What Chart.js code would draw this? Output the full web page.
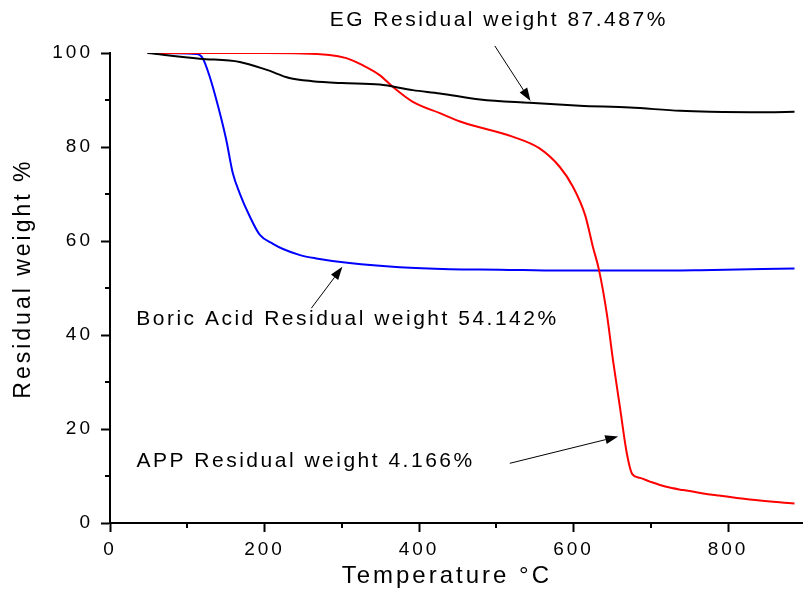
<!DOCTYPE html>
<html><head><meta charset="utf-8">
<script src="https://cdn.jsdelivr.net/npm/chart.js@4/dist/chart.umd.min.js"></script>
<style>html,body{margin:0;padding:0;background:#fff;}</style>
</head><body>
<canvas id="c" width="803" height="597" style="display:block;width:803px;height:597px"></canvas>
<script>
// ---- data ----
const egTemp   = [48.6, 116, 168, 203, 232, 262, 300, 349, 392, 427, 479, 543, 608, 673, 738, 777, 850, 886];
const egWeight = [100, 98.8, 98.1, 96.4, 94.7, 94.0, 93.6, 93.3, 92.1, 91.4, 90.1, 89.4, 88.8, 88.4, 87.7, 87.5, 87.4, 87.487];

const appTemp   = [48.6, 200, 284, 306, 327, 349, 366, 392, 427, 457, 521, 556, 582, 599, 615, 625, 633, 643, 651, 660, 669, 676, 686, 699, 720, 742, 764, 785, 828, 886];
const appWeight = [100, 100, 99.6, 98.9, 97.4, 95.3, 92.8, 89.6, 87.2, 85.2, 82.2, 79.7, 75.8, 71.6, 65.5, 58.8, 53.8, 44.6, 34.7, 24.7, 14.8, 10.4, 9.6, 8.8, 7.7, 7.0, 6.4, 5.9, 5.0, 4.166];

const boricTemp   = [48.6, 112, 120, 129, 140, 150.5, 159, 168, 181, 194, 211, 224, 246, 267, 310, 375, 440, 504, 582, 700, 764, 886];
const boricWeight = [100, 99.8, 98.9, 95.0, 88.6, 81.5, 74.4, 70.1, 65.2, 61.3, 59.4, 58.3, 57.0, 56.3, 55.3, 54.4, 54.0, 53.9, 53.7, 53.7, 53.8, 54.142];

const xMajorTicks = [0, 200, 400, 600, 800];
const xMinorTicks = [100, 300, 500, 700];
const yMajorTicks = [0, 20, 40, 60, 80, 100];
const yMinorTicks = [10, 30, 50, 70, 90];

const annotationTexts = ['EG Residual weight 87.487%', 'Boric Acid Residual weight 54.142%', 'APP Residual weight 4.166%'];
// text anchor (data units) and arrow start/tip (data units)
const annotationPlaces = [
  {tx: 284.3, ty: 105.7, x0: 498.1, y0: 101.5, x1: 544.3, y1: 89.8},
  {tx: 34.0,  ty: 42.1,  x0: 260.6, y0: 45.7,  x1: 300.8, y1: 54.5},
  {tx: 34.3,  ty: 12.0,  x0: 517.5, y0: 12.7,  x1: 657.8, y1: 18.4}
];

const toPts = (xs, ys) => xs.map((v, i) => ({x: v, y: ys[i]}));
const FONT = '"Liberation Sans", Arial, Helvetica, sans-serif';

const spacingPlugin = {
  id: 'spacing',
  beforeUpdate(chart) { chart.ctx.letterSpacing = '3px'; }
};

function arrow(ctx, x0, y0, x1, y1) {
  const ang = Math.atan2(y1 - y0, x1 - x0);
  const len = 13, hw = 4.5;
  const bx = x1 - len * Math.cos(ang), by = y1 - len * Math.sin(ang);
  ctx.beginPath(); ctx.moveTo(x0, y0); ctx.lineTo(bx, by); ctx.stroke();
  ctx.beginPath();
  ctx.moveTo(x1, y1);
  ctx.lineTo(bx + hw * Math.sin(ang), by - hw * Math.cos(ang));
  ctx.lineTo(bx - hw * Math.sin(ang), by + hw * Math.cos(ang));
  ctx.closePath(); ctx.fill();
}

const annotPlugin = {
  id: 'annot',
  afterDraw(chart) {
    const ctx = chart.ctx, xs = chart.scales.x, ys = chart.scales.y;
    ctx.save();
    ctx.strokeStyle = '#000'; ctx.fillStyle = '#000';
    ctx.lineWidth = 2;
    xMinorTicks.forEach(v => {
      const px = Math.round(xs.getPixelForValue(v));
      ctx.beginPath(); ctx.moveTo(px, ys.bottom); ctx.lineTo(px, ys.bottom + 5); ctx.stroke();
    });
    yMinorTicks.forEach(v => {
      const py = Math.round(ys.getPixelForValue(v));
      ctx.beginPath(); ctx.moveTo(xs.left, py); ctx.lineTo(xs.left - 5, py); ctx.stroke();
    });
    ctx.font = '21px ' + FONT;
    ctx.letterSpacing = '2.5px';
    ctx.textAlign = 'left'; ctx.textBaseline = 'alphabetic';
    ctx.lineWidth = 1;
    annotationTexts.forEach((t, i) => {
      const p = annotationPlaces[i];
      ctx.fillText(t, xs.getPixelForValue(p.tx), ys.getPixelForValue(p.ty));
      arrow(ctx, xs.getPixelForValue(p.x0), ys.getPixelForValue(p.y0), xs.getPixelForValue(p.x1), ys.getPixelForValue(p.y1));
    });
    ctx.restore();
  }
};

new Chart(document.getElementById('c'), {
  type: 'line',
  data: {
    datasets: [
      {label: 'EG', data: toPts(egTemp, egWeight), borderColor: '#000000', borderWidth: 2},
      {label: 'APP', data: toPts(appTemp, appWeight), borderColor: '#ff0000', borderWidth: 2},
      {label: 'Boric Acid', data: toPts(boricTemp, boricWeight), borderColor: '#0000ff', borderWidth: 2}
    ]
  },
  options: {
    responsive: false,
    animation: false,
    devicePixelRatio: 1,
    parsing: false,
    elements: {point: {radius: 0}, line: {cubicInterpolationMode: 'monotone', fill: false}},
    layout: {padding: {left: 0, top: 53, right: 0, bottom: 0}},
    plugins: {legend: {display: false}, tooltip: {enabled: false}},
    scales: {
      x: {
        type: 'linear', min: 0, max: 897,
        afterBuildTicks: s => { s.ticks = xMajorTicks.map(v => ({value: v})); },
        afterFit: s => { s.height = 74; },
        ticks: {color: '#000', font: {family: FONT, size: 19}, padding: 6},
        grid: {drawOnChartArea: false, tickLength: 9, tickWidth: 2, tickColor: '#000'},
        border: {color: '#000', width: 2},
        title: {display: true, text: 'Temperature °C\u00A0\u00A0', color: '#000', font: {family: FONT, size: 24}, padding: {top: 0, bottom: 6}}
      },
      y: {
        type: 'linear', min: 0, max: 100,
        afterBuildTicks: s => { s.ticks = yMajorTicks.map(v => ({value: v})); },
        afterFit: s => { s.width = 110; },
        ticks: {color: '#000', font: {family: FONT, size: 19}, padding: 8},
        grid: {drawOnChartArea: false, tickLength: 9, tickWidth: 2, tickColor: '#000'},
        border: {color: '#000', width: 2},
        title: {display: true, text: '\u00A0\u00A0Residual weight %', color: '#000', font: {family: FONT, size: 23}, padding: {top: 10, bottom: 0}}
      }
    }
  },
  plugins: [spacingPlugin, annotPlugin]
});
</script>
</body></html>
